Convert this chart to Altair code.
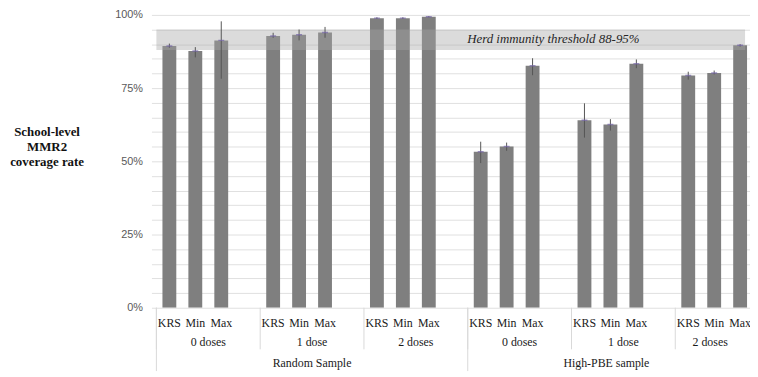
import altair as alt
import pandas as pd

# ---- data ----
sample_names = ["Random Sample", "High-PBE sample"]
dose_names = ["0 doses", "1 dose", "2 doses"]
measure_names = ["KRS", "Min", "Max"]
coverage = [89.4, 87.7, 91.3, 92.8, 93.2, 94.0, 98.9, 98.9, 99.4,
            53.3, 55.1, 82.6, 64.0, 62.6, 83.3, 79.3, 80.2, 89.6]
lower = [88.8, 85.5, 78.2, 92.2, 91.3, 92.2, 98.6, 98.6, 99.2,
         49.4, 53.6, 79.4, 58.1, 60.5, 81.8, 77.9, 79.7, 89.2]
upper = [90.2, 89.0, 97.8, 93.9, 95.0, 95.9, 99.2, 99.2, 99.6,
         56.7, 56.4, 85.2, 69.8, 64.4, 84.8, 80.6, 81.0, 90.0]
herd_range = [88, 95]
herd_label = "Herd immunity threshold 88-95%"
y_title = ["School-level", "MMR2", "coverage rate"]

# ---- layout ----
SLOTS = 4            # three bars + one empty slot per dose group
X_MAX = 22.69        # visible part of the category axis (source is cropped)
SLOT_PX = 26.67
W = round(X_MAX * SLOT_PX)
H = 296
SERIF = "Liberation Serif"

rows = []
k = 0
for si, s in enumerate(sample_names):
    for di, d in enumerate(dose_names):
        g = si * 3 + di
        for mi, m in enumerate(measure_names):
            rows.append(dict(sample=s, dose=d, measure=m, pos=g * SLOTS + mi + 0.5,
                             value=coverage[k], lo=lower[k], hi=upper[k]))
            k += 1
df = pd.DataFrame(rows)

grp = []
for si, s in enumerate(sample_names):
    for di, d in enumerate(dose_names):
        g = si * 3 + di
        a, b = g * SLOTS, min(g * SLOTS + SLOTS, X_MAX)
        grp.append(dict(dose=d, start=a, mid=(a + b) / 2))
grp_df = pd.DataFrame(grp)
grp_df = grp_df[grp_df.start < X_MAX]

smp = []
for si, s in enumerate(sample_names):
    a, b = si * 3 * SLOTS, min((si + 1) * 3 * SLOTS, X_MAX)
    smp.append(dict(sample=s, start=a, mid=(a + b) / 2))
smp_df = pd.DataFrame(smp)

band_df = pd.DataFrame([dict(x0=0, x1=X_MAX, y0=herd_range[0], y1=herd_range[1],
                             lx=15.3, ly=(herd_range[0] + herd_range[1]) / 2 + 0.3,
                             label=herd_label)])

xs = alt.Scale(domain=[0, X_MAX], nice=False, zero=False)
ys = alt.Scale(domain=[0, 100], nice=False)

y_axis = alt.Axis(
    values=list(range(0, 101, 5)),
    labelExpr="datum.value % 25 == 0 ? datum.value + '%' : ''",
    labelOverlap=False, grid=True, gridColor="#e0e0e0", domain=False, ticks=False,
    labelFont="Liberation Sans", labelFontSize=11, labelColor="#595959", labelPadding=9,
    title=y_title, titleAngle=0, titleFont=SERIF, titleFontSize=13,
    titleFontWeight="bold", titleColor="#111111", titleAlign="center",
    titleBaseline="middle", titleX=-106, titleY=118, titleLineHeight=15)

base = alt.Chart(df)

bars = base.mark_bar(size=14, color="#7f7f7f", clip=True).encode(
    x=alt.X("pos:Q", scale=xs, axis=None),
    y=alt.Y("value:Q", scale=ys, axis=y_axis),
)

band = alt.Chart(band_df).mark_rect(color="#a6a6a6", opacity=0.4).encode(
    x=alt.X("x0:Q", scale=xs, axis=None), x2="x1:Q",
    y=alt.Y("y0:Q", scale=ys, axis=y_axis), y2="y1:Q",
)

err = base.mark_rule(color="#555555", strokeWidth=1, clip=True).encode(
    x=alt.X("pos:Q", scale=xs, axis=None),
    y=alt.Y("lo:Q", scale=ys, axis=y_axis), y2="hi:Q",
)

mean_tick = base.mark_tick(orient="horizontal", size=6, thickness=1.5,
                           color="#7565a8", clip=True).encode(
    x=alt.X("pos:Q", scale=xs, axis=None),
    y=alt.Y("value:Q", scale=ys, axis=y_axis),
)

herd_text = alt.Chart(band_df).mark_text(font=SERIF, fontStyle="italic", fontSize=13,
                                         color="#262626", baseline="middle").encode(
    x=alt.X("lx:Q", scale=xs, axis=None),
    y=alt.Y("ly:Q", scale=ys, axis=y_axis),
    text="label:N",
)

measure_lbl = base.mark_text(font=SERIF, fontSize=12, color="#1a1a1a",
                             baseline="middle").encode(
    x=alt.X("pos:Q", scale=xs, axis=None), y=alt.value(H + 15), text="measure:N",
)

dose_lbl = alt.Chart(grp_df).mark_text(font=SERIF, fontSize=12, color="#1a1a1a",
                                       baseline="middle").encode(
    x=alt.X("mid:Q", scale=xs, axis=None), y=alt.value(H + 35), text="dose:N",
)

sample_lbl = alt.Chart(smp_df).mark_text(font=SERIF, fontSize=12, color="#1a1a1a",
                                         baseline="middle").encode(
    x=alt.X("mid:Q", scale=xs, axis=None), y=alt.value(H + 56), text="sample:N",
)

dose_sep = alt.Chart(grp_df).mark_rule(color="#d9d9d9", strokeWidth=1).encode(
    x=alt.X("start:Q", scale=xs, axis=None), y=alt.value(H), y2=alt.value(H + 42),
)

sample_sep = alt.Chart(smp_df).mark_rule(color="#d9d9d9", strokeWidth=1).encode(
    x=alt.X("start:Q", scale=xs, axis=None), y=alt.value(H), y2=alt.value(H + 64),
)

chart = alt.layer(
    bars, band, err, mean_tick, herd_text,
    dose_sep, sample_sep, measure_lbl, dose_lbl, sample_lbl,
).properties(
    width=W, height=H,
    background="white",
    autosize=alt.AutoSizeParams(type="none"),
    padding={"left": 145, "top": 5, "right": 0, "bottom": 66},
).configure_view(strokeWidth=0)

chart.save("out.html", embed_options={"renderer": "svg", "actions": False})
